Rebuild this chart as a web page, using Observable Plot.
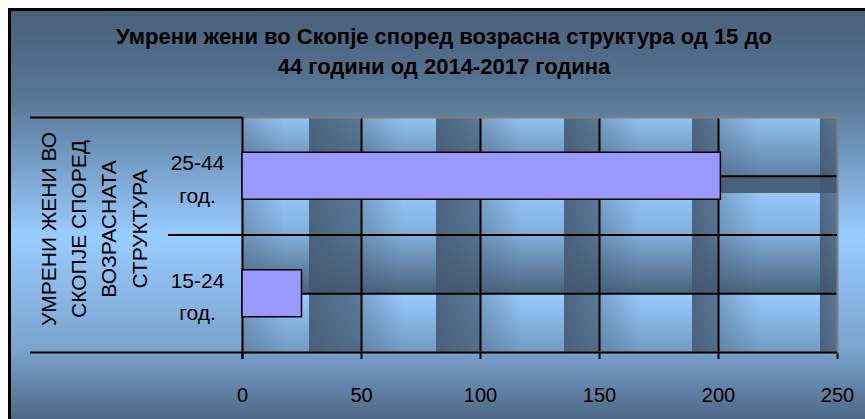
<!DOCTYPE html>
<html><head><meta charset="utf-8">
<script src="https://cdn.jsdelivr.net/npm/d3@7"></script>
<script src="https://cdn.jsdelivr.net/npm/@observablehq/plot@0.6"></script>
<style>
body{margin:0;background:#fff;width:865px;height:419px;overflow:hidden;font-family:"Liberation Sans",Arial,sans-serif}
#chart{position:absolute;left:8px;top:8px;width:900px;height:420px;border-top:3px solid #000;border-left:3px solid #000;
background:linear-gradient(to bottom,#4a5f7a 0px,#587796 90px,#99ccff 225px,#7aa2cc 340px,#4c6584 411px);}
#title{height:89px;box-sizing:border-box;padding-top:11px;width:866px;text-align:center;font-weight:bold;font-size:22px;line-height:30px;color:#000}
#plot svg{display:block;background:transparent !important}
#plot svg [aria-label="x-axis tick"] path{stroke-width:2}
</style></head><body>
<div id="chart"><div id="title"></div><div id="plot"></div></div>
<script>
// ---- data ----
const titleLines = ["Умрени жени во Скопје според возрасна структура од 15 до", "44 години од 2014-2017 година"];
const categories = ["15-24 год.", "25-44 год."];
const values = [25, 201];
const xTicks = [0, 50, 100, 150, 200, 250];
const axisTitle = "УМРЕНИ ЖЕНИ ВО\nСКОПЈЕ СПОРЕД\nВОЗРАСНАТА\nСТРУКТУРА";

// ---- decoration (picture fill of the plot area) ----
const stripeStarts = [0.111, 0.326, 0.540, 0.755, 0.970];

document.getElementById("title").innerHTML = titleLines.join("<br>");

const data = categories.map((c, i) => ({cat: c, value: values[i], i}));
const n = categories.length;

const plot = Plot.plot({
  width: 854,
  height: 319,
  marginTop: 17,
  marginBottom: 67,
  marginLeft: 231,
  marginRight: 28,
  style: {color: "#000", fontFamily: "Liberation Sans, Arial, sans-serif", fontSize: "20px", background: "transparent"},
  x: {domain: [0, 250], ticks: xTicks, tickSize: 7, tickPadding: 28, label: null, tickFormat: d => String(d)},
  y: {domain: [0, n], axis: null},
  marks: [
    Plot.frame({fill: "url(#rowGrad)"}),
    Plot.frame({fill: "url(#colGrad)"}),
    Plot.ruleX(xTicks.filter(t => t > 0 && t < 250), {stroke: "#000", strokeWidth: 2}),
    Plot.ruleY(data, {y: d => d.i + 0.5, stroke: "#000", strokeWidth: 2}),
    Plot.frame({stroke: "#808080", strokeWidth: 2}),
    Plot.ruleY(d3.range(1, n), {stroke: "#000", strokeWidth: 2, insetLeft: -74}),
    Plot.ruleY([0], {stroke: "#000", strokeWidth: 2, insetLeft: -212}),
    Plot.ruleY([n], {x1: 0, x2: 0, stroke: "#000", strokeWidth: 2, insetLeft: -212}),
    Plot.ruleX([0], {stroke: "#000", strokeWidth: 2, insetBottom: -7}),
    Plot.rect(data, {x1: 0, x2: "value", y1: d => d.i + 0.3, y2: d => d.i + 0.7, fill: "#9999ff", stroke: "#000", strokeWidth: 1.5}),
    Plot.text(data, {y: d => d.i + 0.5, text: d => d.cat.replace(" ", "\n"), frameAnchor: "left", dx: -45, textAnchor: "middle", lineHeight: 1.55, fontSize: 21, fill: "#000"}),
    Plot.text([axisTitle], {text: d => d, frameAnchor: "left", dx: -151, dy: -6, rotate: -90, textAnchor: "middle", lineHeight: 1.45, fontSize: 21, fill: "#000"})
  ]
});

const svg = d3.select(plot);
const defs = svg.insert("defs", ":first-child");
const rg = defs.append("linearGradient").attr("id", "rowGrad").attr("x1", 0).attr("x2", 0).attr("y1", 0).attr("y2", 1);
[[0, "#93c4f2"], [0.247, "#5f80a4"], [0.247, "#4b627d"], [0.32, "#4b627d"], [0.32, "#96c8fa"], [0.5, "#82aedb"], [0.745, "#4b647f"], [0.745, "#99ccff"], [1, "#7299c2"]]
  .forEach(([o, c]) => rg.append("stop").attr("offset", o).attr("stop-color", c));
const cg = defs.append("linearGradient").attr("id", "colGrad").attr("x1", 0).attr("x2", 1).attr("y1", 0).attr("y2", 0);
stripeStarts.forEach((s, k) => {
  const c0 = k / stripeStarts.length, c1 = (k + 1) / stripeStarts.length;
  [[c0, 0.35], [c0 + 0.07, 0], [s, 0], [s, 0.88], [c1, 0.7]].forEach(([o, a]) =>
    cg.append("stop").attr("offset", o).attr("stop-color", "#44586f").attr("stop-opacity", a));
});

document.getElementById("plot").appendChild(plot);
</script>
</body></html>
